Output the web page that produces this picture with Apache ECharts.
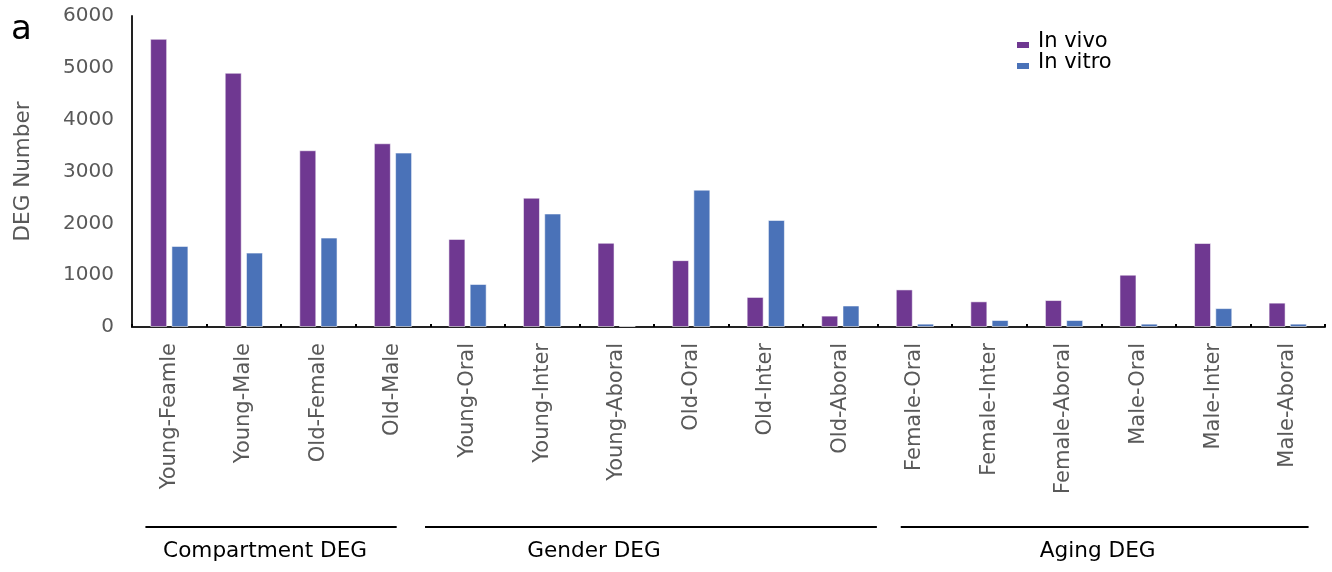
<!DOCTYPE html>
<html><head><meta charset="utf-8">
<script src="https://cdn.jsdelivr.net/npm/echarts@6/dist/echarts.min.js"></script>
<style>html,body{margin:0;padding:0;background:#fff}#c{width:1332px;height:572px}</style>
</head><body><div id="c"></div>
<script>
// ---- data ----
const categories = ['Young-Feamle','Young-Male','Old-Female','Old-Male','Young-Oral','Young-Inter','Young-Aboral','Old-Oral','Old-Inter','Old-Aboral','Female-Oral','Female-Inter','Female-Aboral','Male-Oral','Male-Inter','Male-Aboral'];
const inVivo  = [5560, 4905, 3410, 3545, 1700, 2495, 1625, 1290, 580, 220, 725, 495, 520, 1010, 1620, 470];
const inVitro = [1565, 1435, 1725, 3365, 830, 2190, 20, 2650, 2065, 415, 65, 135, 135, 65, 365, 65];
const seriesNames = ['In vivo', 'In vitro'];
const yMin = 0, yMax = 6000, yStep = 1000;
const groupNames = ['Compartment DEG', 'Gender DEG', 'Aging DEG'];
const groupFirst = [0, 4, 10];
const groupLast = [3, 9, 15];

// ---- layout / style ----
const FONT = 'DejaVu Sans';
const GRAY = '#595959';
const groupLinePad = [[-0.32, 0.05], [-0.57, 0.49], [-0.19, 0.28]];
const groupLabelShift = [-6, -57, -7];

const chart = echarts.init(document.getElementById('c'), null, {renderer: 'canvas'});
const option = {
  animation: false,
  backgroundColor: '#fff',
  grid: {left: 132, right: 7, top: 16, bottom: 245, containLabel: false},
  legend: {
    orient: 'vertical', left: 1012, top: 26,
    itemWidth: 12, itemHeight: 13, itemGap: 0,
    icon: 'path://M0,0L0,0M0,7L12,7L12,13L0,13Z',
    itemStyle: {borderWidth: 0},
    textStyle: {fontFamily: FONT, fontSize: 21, color: '#000', lineHeight: 20.5, padding: [0, 0, 0, 4]},
    data: seriesNames
  },
  xAxis: {
    type: 'category', data: categories,
    axisLine: {lineStyle: {color: '#222', width: 2}},
    axisTick: {show: true, inside: true, length: 3, lineStyle: {color: '#000', width: 2}},
    axisLabel: {interval: 0, rotate: 90, margin: 16, fontFamily: FONT, fontSize: 21, color: GRAY}
  },
  yAxis: {
    type: 'value', min: yMin, max: yMax, interval: yStep,
    name: 'DEG Number', nameLocation: 'middle', nameGap: 98, nameRotate: 90,
    nameTextStyle: {fontFamily: FONT, fontSize: 21.5, color: GRAY},
    axisLine: {show: true, lineStyle: {color: '#222', width: 2}},
    axisTick: {show: false},
    splitLine: {show: false},
    axisLabel: {margin: 18, fontFamily: FONT, fontSize: 20, color: GRAY, formatter: v => String(v)}
  },
  series: [
    {name: seriesNames[0], type: 'bar', data: inVivo, barWidth: 17, barGap: '25%',
     itemStyle: {color: '#6f3891', borderColor: 'rgba(255,255,255,0.55)', borderWidth: 1}},
    {name: seriesNames[1], type: 'bar', data: inVitro, barWidth: 17, barGap: '25%',
     itemStyle: {color: '#4a72b8', borderColor: 'rgba(255,255,255,0.55)', borderWidth: 1}}
  ]
};
chart.setOption(option);

// group brackets derived from the category axis
const c0 = chart.convertToPixel({xAxisIndex: 0}, 0);
const c1 = chart.convertToPixel({xAxisIndex: 0}, 1);
const step = c1 - c0;
const px = i => c0 + i * step;
const lineY = chart.convertToPixel({yAxisIndex: 0}, yMin) + 200;
const graphics = [{
  type: 'text', left: 11, top: 13,
  style: {text: 'a', font: '34px "' + FONT + '"', fill: '#000'}
}];
groupNames.forEach((g, k) => {
  const x1 = px(groupFirst[k] + groupLinePad[k][0]);
  const x2 = px(groupLast[k] + groupLinePad[k][1]);
  graphics.push({type: 'line', shape: {x1: x1, y1: lineY, x2: x2, y2: lineY}, style: {stroke: '#000', lineWidth: 2}});
  graphics.push({type: 'text', x: (x1 + x2) / 2 + groupLabelShift[k], y: lineY + 24,
    style: {text: g, font: '21.6px "' + FONT + '"', fill: '#000', align: 'center', verticalAlign: 'middle'}});
});
chart.setOption({graphic: graphics});
</script></body></html>
